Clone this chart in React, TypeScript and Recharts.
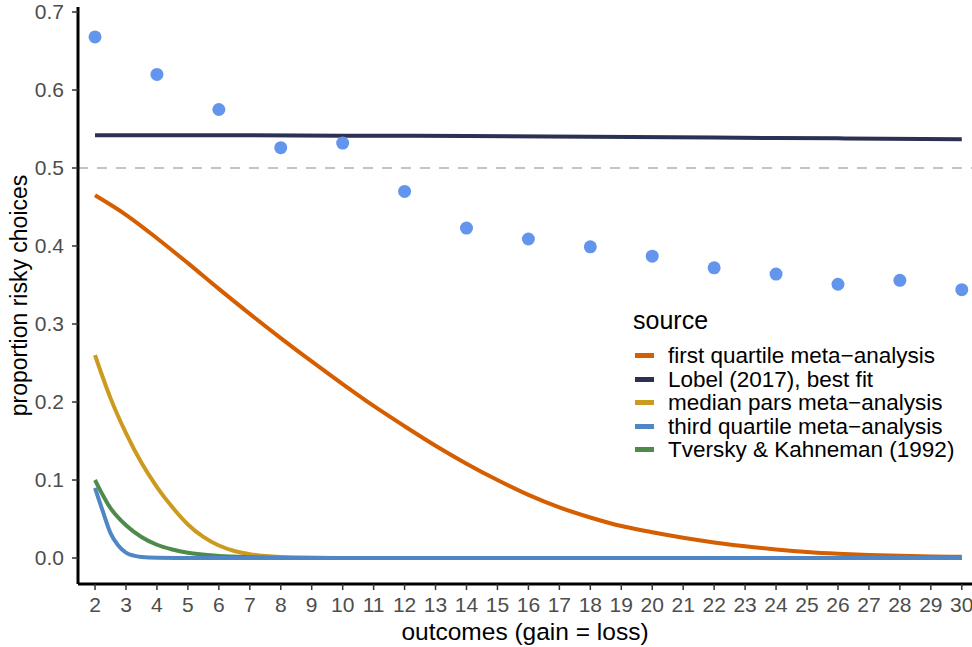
import { ComposedChart, Line, Scatter, XAxis, YAxis, ReferenceLine, Legend } from "recharts";

const FONT = '"Liberation Sans", Arial, Helvetica, sans-serif';

// observed proportions (points)
const pointX = [2, 4, 6, 8, 10, 12, 14, 16, 18, 20, 22, 24, 26, 28, 30];
const pointY = [0.668, 0.620, 0.575, 0.526, 0.532, 0.470, 0.423, 0.409, 0.399, 0.387, 0.372, 0.364, 0.351, 0.356, 0.344];

// model curves
const firstQX = [2, 3, 4, 5, 6, 7, 8, 9, 10, 11, 12, 13, 14, 15, 16, 17, 18, 19, 20, 21, 22, 23, 24, 25, 26, 27, 28, 29, 30];
const firstQY = [0.465, 0.440, 0.410, 0.378, 0.345, 0.313, 0.282, 0.252, 0.223, 0.195, 0.169, 0.144, 0.121, 0.100, 0.081, 0.065, 0.052, 0.041, 0.033, 0.026, 0.020, 0.015, 0.011, 0.0077, 0.0054, 0.0038, 0.0028, 0.0021, 0.0016];

const lobelX = [2, 6, 10, 14, 18, 22, 26, 30];
const lobelY = [0.542, 0.542, 0.5415, 0.541, 0.540, 0.539, 0.538, 0.537];

const medianX = [2, 2.5, 3, 3.5, 4, 4.5, 5, 5.5, 6, 6.5, 7, 7.5, 8, 9, 10, 30];
const medianY = [0.26, 0.205, 0.16, 0.122, 0.091, 0.065, 0.043, 0.027, 0.016, 0.009, 0.005, 0.0025, 0.0012, 0.0003, 0.0001, 0];

const thirdQX = [2, 2.25, 2.5, 2.75, 3, 3.25, 3.5, 4, 5, 30];
const thirdQY = [0.09, 0.06, 0.032, 0.016, 0.007, 0.003, 0.0012, 0.0002, 0, 0];

const tkX = [2, 2.5, 3, 3.5, 4, 4.5, 5, 6, 7, 8, 10, 30];
const tkY = [0.1, 0.064, 0.042, 0.027, 0.017, 0.011, 0.0068, 0.0027, 0.0011, 0.0004, 0.0001, 0];

const xTicks = [2, 3, 4, 5, 6, 7, 8, 9, 10, 11, 12, 13, 14, 15, 16, 17, 18, 19, 20, 21, 22, 23, 24, 25, 26, 27, 28, 29, 30];
const yTicks = [0, 0.1, 0.2, 0.3, 0.4, 0.5, 0.6, 0.7];

const zip = (xs: number[], ys: number[]) => xs.map((x, i) => ({ x, y: ys[i] }));

const points = zip(pointX, pointY);

// legend order
const legendItems = [
  { name: "first quartile meta−analysis", color: "#D55E00", data: zip(firstQX, firstQY) },
  { name: "Lobel (2017), best fit", color: "#2A3152", data: zip(lobelX, lobelY) },
  { name: "median pars meta−analysis", color: "#CC9A1E", data: zip(medianX, medianY) },
  { name: "third quartile meta−analysis", color: "#4F86C6", data: zip(thirdQX, thirdQY) },
  { name: "Tversky & Kahneman (1992)", color: "#4F8A4C", data: zip(tkX, tkY) },
];

// draw order: blue on top at the baseline
const drawOrder = [0, 1, 2, 4, 3];

const X_DOMAIN: [number, number] = [1.45, 30.33];
const Y_DOMAIN: [number, number] = [-0.0333, 0.7064];

function LegendBox() {
  return (
    <div style={{ fontFamily: FONT, color: "#000" }}>
      <div style={{ fontSize: 25, lineHeight: "24px", height: 24, marginBottom: 12 }}>source</div>
      {legendItems.map((s) => (
        <div key={s.name} style={{ display: "flex", alignItems: "center", height: 23.5 }}>
          <div style={{ width: 19, height: 5, background: s.color, marginLeft: 2, marginRight: 14 }} />
          <div style={{ fontSize: 22.5, lineHeight: "23.5px", whiteSpace: "nowrap" }}>{s.name}</div>
        </div>
      ))}
    </div>
  );
}

export default function App() {
  return (
    <div style={{ position: "absolute", left: 0, top: 0, background: "#fff" }}>
      <ComposedChart width={972} height={647} margin={{ top: 7, right: 0, bottom: 0, left: 0 }}>
        <XAxis
          xAxisId="bottom"
          type="number"
          dataKey="x"
          domain={X_DOMAIN}
          allowDataOverflow
          ticks={xTicks}
          interval={0}
          height={63}
          axisLine={{ stroke: "#000", strokeWidth: 3 }}
          tickLine={{ stroke: "#333", strokeWidth: 1.5 }}
          tickSize={6}
          tickMargin={7}
          tick={{ fill: "#4D4D4D", fontSize: 21, fontFamily: FONT }}
          label={{ value: "outcomes (gain = loss)", position: "insideBottom", offset: 7, fill: "#000", fontSize: 24.5, fontFamily: FONT }}
        />
        <XAxis
          xAxisId="top"
          orientation="top"
          type="number"
          domain={X_DOMAIN}
          allowDataOverflow
          height={0}
          tick={false}
          tickLine={false}
          axisLine={{ stroke: "#000", strokeWidth: 3 }}
        />
        <YAxis
          type="number"
          dataKey="y"
          domain={Y_DOMAIN}
          allowDataOverflow
          ticks={yTicks}
          interval={0}
          width={78}
          axisLine={{ stroke: "#000", strokeWidth: 3 }}
          tickLine={{ stroke: "#333", strokeWidth: 1.5 }}
          tickSize={6}
          tickMargin={8}
          tickFormatter={(v: number) => v.toFixed(1)}
          tick={{ fill: "#4D4D4D", fontSize: 21, fontFamily: FONT }}
          label={{
            value: "proportion risky choices",
            angle: -90,
            position: "insideLeft",
            offset: 19,
            fill: "#000",
            fontSize: 23,
            fontFamily: FONT,
            style: { textAnchor: "middle" },
          }}
        />
        <ReferenceLine xAxisId="bottom" y={0.5} stroke="#C4C4C4" strokeWidth={2} strokeDasharray="10 9" />
        {drawOrder.map((i) => {
          const s = legendItems[i];
          return (
            <Line
              key={s.name}
              xAxisId="bottom"
              data={s.data}
              dataKey="y"
              name={s.name}
              type="monotone"
              stroke={s.color}
              strokeWidth={4}
              dot={false}
              activeDot={false}
              isAnimationActive={false}
            />
          );
        })}
        <Scatter
          xAxisId="bottom"
          data={points}
          dataKey="y"
          fill="#6495ED"
          isAnimationActive={false}
          shape={(p: any) => <circle cx={p.cx} cy={p.cy} r={6.5} fill="#6495ED" />}
        />
        <Legend
          layout="vertical"
          align="center"
          verticalAlign="middle"
          wrapperStyle={{ left: 633, top: 308, width: 339 }}
          content={() => <LegendBox />}
        />
      </ComposedChart>
    </div>
  );
}
